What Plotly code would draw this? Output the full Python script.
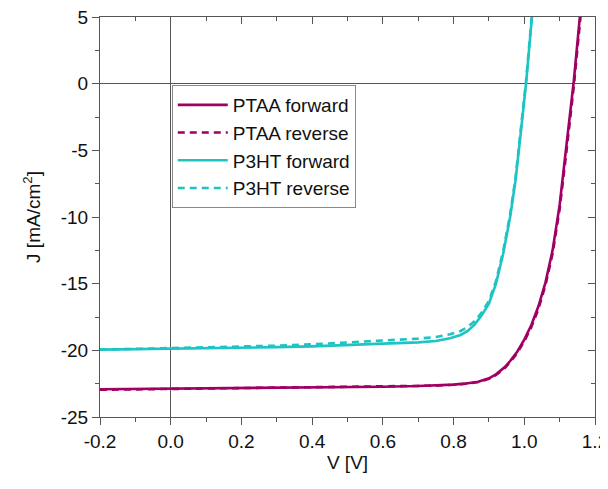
import plotly.graph_objects as go

# ---- data ----
ptaa_v = [-0.2, -0.1, 0.0, 0.1, 0.2, 0.3, 0.4, 0.5, 0.6, 0.7, 0.75, 0.8, 0.83, 0.87, 0.9, 0.92, 0.945,
          0.96, 0.98, 1.0, 1.02, 1.04, 1.06, 1.08, 1.10, 1.12, 1.14, 1.16]
ptaa_fwd_j = [-22.92, -22.9, -22.88, -22.87, -22.85, -22.83, -22.8, -22.77, -22.73, -22.68, -22.64, -22.57,
              -22.5, -22.35, -22.1, -21.8, -21.25, -20.8, -20.1, -19.2, -18.1, -16.7, -14.9, -12.5, -9.1,
              -4.5, 0.2, 5.8]
ptaa_rev_j = [-22.96, -22.93, -22.9, -22.9, -22.86, -22.84, -22.81, -22.78, -22.74, -22.69, -22.65, -22.58,
              -22.52, -22.38, -22.14, -21.85, -21.32, -20.88, -20.2, -19.32, -18.25, -16.9, -15.1, -12.75,
              -9.4, -4.9, -0.2, 5.3]

p3ht_v = [-0.2, -0.1, 0.0, 0.1, 0.2, 0.3, 0.4, 0.5, 0.6, 0.7, 0.75, 0.79, 0.82, 0.84, 0.86, 0.88, 0.90,
          0.92, 0.94, 0.96, 0.975, 0.99, 1.005, 1.025]
p3ht_fwd_j = [-19.95, -19.92, -19.88, -19.85, -19.8, -19.76, -19.7, -19.62, -19.5, -19.4, -19.3, -19.1,
              -18.85, -18.55, -18.05, -17.35, -16.5, -15.0, -12.8, -10.0, -7.3, -3.7, 0.0, 6.0]
p3ht_rev_j = [-19.95, -19.9, -19.82, -19.78, -19.72, -19.65, -19.55, -19.42, -19.27, -19.12, -19.0, -18.8,
              -18.55, -18.25, -17.8, -17.15, -16.3, -14.8, -12.6, -9.8, -7.1, -3.5, 0.2, 6.2]

x_ticks = [-0.2, 0.0, 0.2, 0.4, 0.6, 0.8, 1.0, 1.2]
x_labels = ["-0.2", "0.0", "0.2", "0.4", "0.6", "0.8", "1.0", "1.2"]
x_minor = [-0.1, 0.1, 0.3, 0.5, 0.7, 0.9, 1.1]
y_ticks = [-25, -20, -15, -10, -5, 0, 5]
y_labels = ["-25", "-20", "-15", "-10", "-5", "0", "5"]
y_minor = [-22.5, -17.5, -12.5, -7.5, -2.5, 2.5]

PTAA_C = "#A00064"
P3HT_C = "#1EC4C4"
AX_C = "#555555"
FONT = "Liberation Sans, Arial, sans-serif"
FS = 19

fig = go.Figure()
fig.add_trace(go.Scatter(x=ptaa_v, y=ptaa_fwd_j, mode="lines", name="PTAA forward",
                         line=dict(color=PTAA_C, width=2.6)))
fig.add_trace(go.Scatter(x=ptaa_v, y=ptaa_rev_j, mode="lines", name="PTAA reverse",
                         line=dict(color=PTAA_C, width=2.6, dash="7px,5px")))
fig.add_trace(go.Scatter(x=p3ht_v, y=p3ht_fwd_j, mode="lines", name="P3HT forward",
                         line=dict(color=P3HT_C, width=2.6)))
fig.add_trace(go.Scatter(x=p3ht_v, y=p3ht_rev_j, mode="lines", name="P3HT reverse",
                         line=dict(color=P3HT_C, width=2.6, dash="7px,5px")))
# invisible trace to activate the top/right axes
fig.add_trace(go.Scatter(x=[0], y=[0], xaxis="x2", yaxis="y2", showlegend=False,
                         mode="markers", marker=dict(opacity=0), hoverinfo="skip"))

common = dict(showgrid=False, showline=True, linecolor=AX_C, linewidth=1, tickcolor=AX_C,
              tickwidth=1, automargin=False, ticklabeloverflow="allow",
              tickfont=dict(family=FONT, size=FS, color="#111111"))

# page body adds an 8px offset; figure is sized/margined to compensate
fig.update_layout(
    width=600, height=481,
    margin=dict(l=92, r=13, t=9, b=72),
    paper_bgcolor="white", plot_bgcolor="white",
    font=dict(family=FONT, size=FS, color="#111111"),
    xaxis=dict(range=[-0.2, 1.2], tickmode="array", tickvals=x_ticks, ticktext=x_labels,
               ticks="outside", ticklen=7,
               minor=dict(tickvals=x_minor, ticks="outside", ticklen=4, tickcolor=AX_C),
               zeroline=True, zerolinecolor=AX_C, zerolinewidth=1,
               title=dict(text="V [V]", font=dict(family=FONT, size=FS), standoff=4),
               **common),
    yaxis=dict(range=[-25, 5], tickmode="array", tickvals=y_ticks, ticktext=y_labels,
               ticks="outside", ticklen=7,
               minor=dict(tickvals=y_minor, ticks="outside", ticklen=4, tickcolor=AX_C),
               zeroline=True, zerolinecolor=AX_C, zerolinewidth=1,
               title=dict(text="J [mA/cm<sup>2</sup>]", font=dict(family=FONT, size=FS)),
               **common),
    xaxis2=dict(range=[-0.2, 1.2], overlaying="x", side="top", anchor="y2", tickmode="array",
                tickvals=x_ticks, showticklabels=False, ticks="inside", ticklen=7,
                minor=dict(tickvals=x_minor, ticks="inside", ticklen=4, tickcolor=AX_C),
                zeroline=False, **common),
    yaxis2=dict(range=[-25, 5], overlaying="y", side="right", anchor="x2", tickmode="array",
                tickvals=y_ticks, showticklabels=False, ticks="inside", ticklen=7,
                minor=dict(tickvals=y_minor, ticks="inside", ticklen=4, tickcolor=AX_C),
                zeroline=False, **common),
    legend=dict(x=0.145, y=0.83, xanchor="left", yanchor="top",
                bordercolor="#888888", borderwidth=1, bgcolor="white",
                font=dict(family=FONT, size=FS, color="#111111"),
                tracegroupgap=0, itemwidth=50),
    showlegend=True,
)

fig.write_html("out.html")
